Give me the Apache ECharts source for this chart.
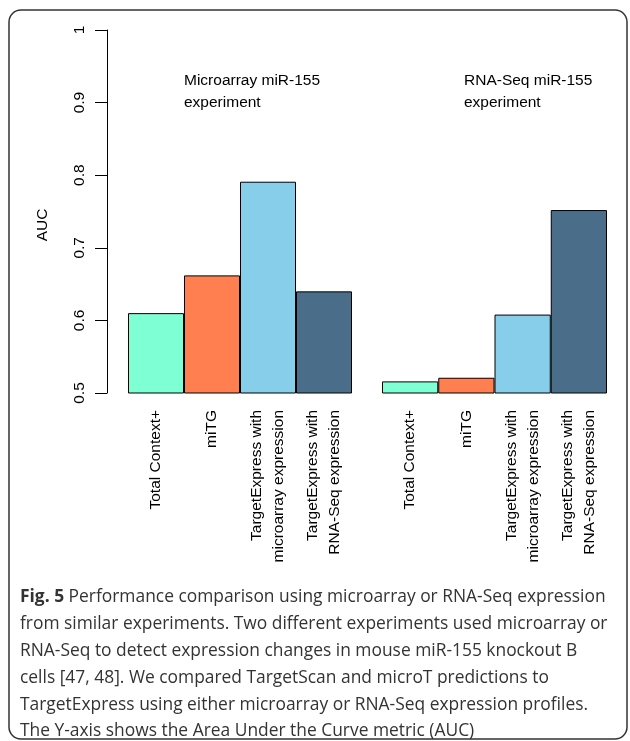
<!DOCTYPE html>
<html>
<head>
<meta charset="utf-8">
<script src="https://cdn.jsdelivr.net/npm/echarts@6/dist/echarts.min.js"></script>
<style>
html,body{margin:0;padding:0;background:#fff;}
#chart{width:630px;height:741px;}
</style>
</head>
<body>
<div id="chart"></div>
<script>
// ---- data ----
var categories = [
  'Total Context+',
  'miTG',
  'TargetExpress with\nmicroarray expression',
  'TargetExpress with\nRNA-Seq expression'
];
var microarrayAUC = [0.610, 0.662, 0.791, 0.640];
var rnaSeqAUC = [0.516, 0.521, 0.608, 0.752];
var yTicks = [0.5, 0.6, 0.7, 0.8, 0.9, 1];
var groupTitles = ['Microarray miR-155\nexperiment', 'RNA-Seq miR-155\nexperiment'];
var yAxisTitle = 'AUC';
var captionBold = 'Fig. 5';
var captionLines = [
  ' Performance comparison using microarray or RNA-Seq expression',
  'from similar experiments. Two different experiments used microarray or',
  'RNA-Seq to detect expression changes in mouse miR-155 knockout B',
  'cells [47, 48]. We compared TargetScan and microT predictions to',
  'TargetExpress using either microarray or RNA-Seq expression profiles.',
  'The Y-axis shows the Area Under the Curve metric (AUC)'
];
var barColors = ['#7FFFD4', '#FF7F50', '#87CEEB', '#4A6E8A'];

// ---- build ----
var FONT = 'Liberation Sans, Arial, Helvetica, sans-serif';
var FS = 15.5;
function barData(vals) {
  return vals.map(function (v, i) {
    return { value: v, itemStyle: { color: barColors[i] } };
  });
}
function xAxisFor(idx) {
  return {
    type: 'category', gridIndex: idx, data: categories,
    axisLine: { show: false }, axisTick: { show: false },
    axisLabel: {
      interval: 0, rotate: 90, margin: 17, color: '#000',
      fontFamily: FONT, fontSize: FS, lineHeight: 22
    }
  };
}
function yAxisFor(idx, show) {
  return {
    type: 'value', gridIndex: idx, min: 0.5, max: 1, interval: 0.1,
    show: show, offset: show ? 21 : 0,
    splitLine: { show: false },
    axisLine: { show: true, lineStyle: { color: '#000', width: 1 } },
    axisTick: { show: true, length: 12, lineStyle: { color: '#000', width: 1 } },
    axisLabel: {
      rotate: 90, margin: 19, color: '#000', fontFamily: FONT, fontSize: FS,
      formatter: function (v) {
        var r = Math.round(v * 10) / 10;
        return yTicks.indexOf(r) >= 0 ? String(r) : '';
      }
    }
  };
}

var chart = echarts.init(document.getElementById('chart'), null, { renderer: 'canvas' });
var captionText = '{b|' + captionBold + '}' + captionLines.join('\n');

chart.setOption({
  animation: false,
  backgroundColor: '#fff',
  grid: [
    { left: 128, top: 30, width: 224, height: 363 },
    { left: 382, top: 30, width: 225, height: 363 }
  ],
  xAxis: [xAxisFor(0), xAxisFor(1)],
  yAxis: [yAxisFor(0, true), yAxisFor(1, false)],
  series: [
    {
      type: 'bar', xAxisIndex: 0, yAxisIndex: 0, data: barData(microarrayAUC),
      barWidth: '100%', itemStyle: { borderColor: '#000', borderWidth: 1 }
    },
    {
      type: 'bar', xAxisIndex: 1, yAxisIndex: 1, data: barData(rnaSeqAUC),
      barWidth: '100%', itemStyle: { borderColor: '#000', borderWidth: 1 }
    }
  ],
  graphic: [
    {
      type: 'rect', silent: true,
      shape: { x: 9, y: 10, width: 618, height: 729, r: 12 },
      style: { fill: 'none', stroke: '#333', lineWidth: 1.5 }
    },
    {
      type: 'text', x: 43, y: 225, rotation: Math.PI / 2,
      style: { text: yAxisTitle, font: FS + 'px ' + FONT, fill: '#000', align: 'center', verticalAlign: 'middle' }
    },
    {
      type: 'text', x: 184, y: 69,
      style: { text: groupTitles[0], font: FS + 'px ' + FONT, fill: '#000', lineHeight: 22.7, align: 'left', verticalAlign: 'top' }
    },
    {
      type: 'text', x: 464, y: 69,
      style: { text: groupTitles[1], font: FS + 'px ' + FONT, fill: '#000', lineHeight: 22.7, align: 'left', verticalAlign: 'top' }
    },
    {
      type: 'text', x: 20, y: 584,
      style: {
        text: captionText,
        font: '17.4px "Open Sans", sans-serif', fill: '#333', lineHeight: 26.8,
        align: 'left', verticalAlign: 'top',
        rich: { b: { font: 'bold 17.4px "Open Sans", sans-serif', fill: '#333', lineHeight: 26.8 } }
      }
    }
  ]
});
</script>
</body>
</html>
